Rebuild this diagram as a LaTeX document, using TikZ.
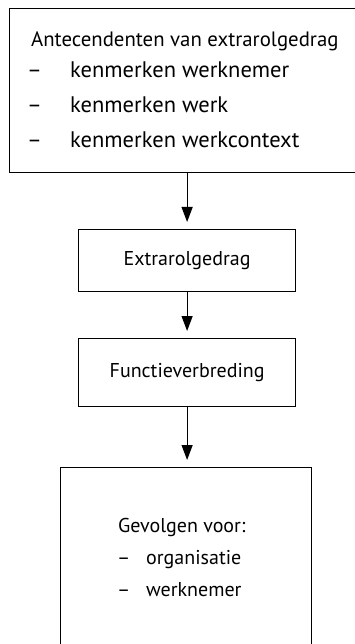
\documentclass[tikz,border=0pt]{standalone}
\usepackage{fontspec}
\setmainfont{PT Sans}
\usetikzlibrary{arrows.meta,positioning}

\begin{document}
\begin{tikzpicture}[x=1pt, y=-1pt, >={Triangle[width=11pt,length=15pt]},
  every node/.style={font=\fontsize{20}{24}\selectfont},
  box/.style={draw, line width=1.2pt, rectangle, inner sep=0pt},
  txt/.style={anchor=base west, inner sep=0pt},
  bigtxt/.style={txt, font=\fontsize{22.5}{27}\selectfont},
  headtxt/.style={txt, font=\fontsize{20.8}{25}\selectfont},
  flow/.style={->, line width=1.2pt, shorten >=7pt}]
  \useasboundingbox (0,0) rectangle (355,644);
  \clip (0,0) rectangle (355,644);
  % boxes
  \node[box, anchor=north west, minimum width=356pt, minimum height=164pt] (ante) at (9,8) {};
  \node[box, anchor=north west, minimum width=217pt, minimum height=62pt] (extra) at (78,229) {Extrarolgedrag};
  \node[box, anchor=north west, minimum width=217pt, minimum height=68pt] (functie) at (78,338) {Functieverbreding};
  \node[box, anchor=north west, minimum width=251pt, minimum height=193pt] (gevolg) at (60,467) {};
  % text in top box
  \node[headtxt] (antetitle) at (31,46.5) {Antecendenten van extrarolgedrag};
  \foreach \y/\lbl [count=\i] in {77.5/kenmerken werknemer, 113/kenmerken werk, 148/kenmerken werkcontext} {
    \node[bigtxt] (antedash\i) at (27,\y) {--};
    \node[bigtxt] (anteitem\i) at (70,\y) {\lbl};
  }
  % text in bottom box
  \node[txt] (gevolgtitle) at (118,532) {Gevolgen voor:};
  \foreach \y/\lbl [count=\i] in {564/organisatie, 596/werknemer} {
    \node[txt] (gevolgdash\i) at (117,\y) {--};
    \node[txt] (gevolgitem\i) at (146,\y) {\lbl};
  }
  % arrows
  \draw[flow] (extra.north |- ante.south) -- (extra.north);
  \draw[flow] (extra.south) -- (functie.north);
  \draw[flow] (functie.south) -- (functie.south |- gevolg.north);
\end{tikzpicture}
\end{document}
